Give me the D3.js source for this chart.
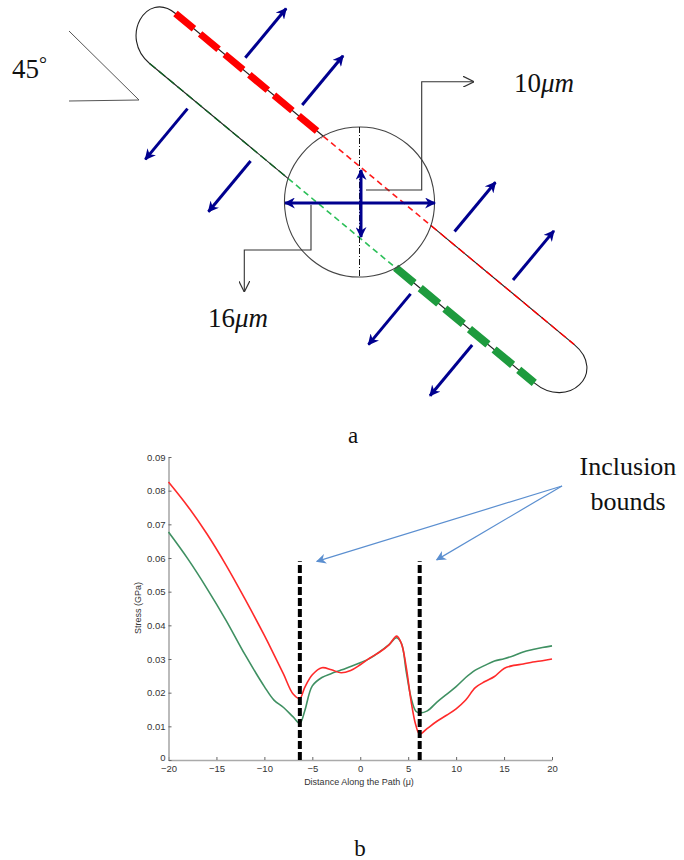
<!DOCTYPE html>
<html>
<head>
<meta charset="utf-8">
<script src="https://cdn.jsdelivr.net/npm/d3@7"></script>
<style>
  body { margin: 0; background: #fff; }
  svg { display: block; }
  .serif { font-family: "Liberation Serif", "DejaVu Serif", serif; fill: #111; }
  .axis text { font-family: "Liberation Sans", Arial, sans-serif; font-size: 9.5px; fill: #333; }
</style>
</head>
<body>
<svg width="684" height="860"></svg>
<script>
// --- chart b data ---
var pathDist = [-20, -18, -16, -14, -12, -10, -9, -8, -7, -6.3, -5.8, -5, -4, -3, -2, -1, 0, 1, 2, 3,
                3.8, 4.3, 4.8, 5.3, 5.8, 6.2, 7, 8, 9, 10, 11, 12, 13, 14, 15, 16, 17, 18, 19, 20];
var stressRed = [0.0826, 0.0754, 0.0672, 0.0579, 0.0477, 0.0370, 0.0313, 0.0255, 0.0196, 0.0183, 0.0215, 0.0253, 0.0274, 0.0268, 0.0259, 0.0266, 0.0283, 0.0303, 0.0320, 0.0342,
                 0.0368, 0.0345, 0.0275, 0.0175, 0.0103, 0.0077, 0.0094, 0.0115, 0.0133, 0.0152, 0.0178, 0.0215, 0.0233, 0.0248, 0.0272, 0.0281, 0.0285, 0.0291, 0.0295, 0.0300];
var stressGreen = [0.0677, 0.0598, 0.0510, 0.0415, 0.0312, 0.0218, 0.0178, 0.0156, 0.0128, 0.0109, 0.0145, 0.0220, 0.0245, 0.0257, 0.0267, 0.0278, 0.0289, 0.0302, 0.0321, 0.0343,
                   0.0363, 0.0346, 0.0262, 0.0185, 0.0145, 0.0140, 0.0146, 0.0172, 0.0195, 0.0218, 0.0245, 0.0267, 0.0281, 0.0294, 0.0301, 0.0310, 0.0321, 0.0328, 0.0334, 0.0339];
var boundDist = [-6.3, 6.2],
    boundTop = 0.059;
var distTicks = [-20, -15, -10, -5, 0, 5, 10, 15, 20],
    stressTicks = [0, 0.01, 0.02, 0.03, 0.04, 0.05, 0.06, 0.07, 0.08, 0.09];

var svg = d3.select("svg");
var defs = svg.append("defs");

function marker(id, color, size, open) {
    var m = defs.append("marker")
        .attr("id", id)
        .attr("viewBox", "0 0 10 10")
        .attr("refX", open ? 10 : 9).attr("refY", 5)
        .attr("markerUnits", "userSpaceOnUse")
        .attr("markerWidth", size).attr("markerHeight", size)
        .attr("orient", "auto-start-reverse");
    if (open) {
        m.append("path").attr("d", "M0,0 L10,5 L0,10").attr("fill", "none")
            .attr("stroke", color).attr("stroke-width", 1.1);
    } else {
        m.append("path").attr("d", "M0,0 L10,5 L0,10 L3,5 Z").attr("fill", color);
    }
}
marker("blue-head", "#00008f", 11, false);
marker("chev", "#333", 11, true);
marker("note-head", "#5b8fd0", 10, false);

// ================= part a : the inclusion sketch =================
var navy = "#00008f";

// 45 degree angle
svg.append("line").attr("x1", 69).attr("y1", 31).attr("x2", 139).attr("y2", 100)
    .attr("stroke", "#555").attr("stroke-width", 1);
svg.append("line").attr("x1", 69).attr("y1", 101).attr("x2", 139).attr("y2", 100)
    .attr("stroke", "#555").attr("stroke-width", 1);
var t45 = svg.append("text").attr("class", "serif").attr("x", 12).attr("y", 78)
    .style("font-size", "27px");
t45.append("tspan").text("45");
t45.append("tspan").attr("dy", -7).style("font-size", "20px").text("°");

// capsule drawn in its own rotated frame
var cap = svg.append("g").attr("transform", "translate(359.5,202) rotate(39.7)");
var hw = 27.5, rc = 75, cut = Math.sqrt(rc * rc - hw * hw);

cap.append("path")
    .attr("d", "M" + (-cut) + "," + (-hw) + " L-262," + (-hw) + " C-300," + (-hw) + " -290," + hw + " -250," + hw + " L" + (-cut) + "," + hw)
    .attr("fill", "none").attr("stroke", "#222").attr("stroke-width", 1.1);
cap.append("path")
    .attr("d", "M" + cut + "," + (-hw) + " L256," + (-hw) + " C300," + (-hw) + " 294," + hw + " 250," + hw + " L" + cut + "," + hw)
    .attr("fill", "none").attr("stroke", "#222").attr("stroke-width", 1.1);

function seg(u1, u2, v, color, w, dash) {
    cap.append("line").attr("x1", u1).attr("y1", v).attr("x2", u2).attr("y2", v)
        .attr("stroke", color).attr("stroke-width", w).attr("stroke-dasharray", dash);
}
// upper (red) side
seg(-262, -cut, -hw, "#ff0000", 7, "24,8");
seg(-cut, cut, -hw, "#ff1a1a", 1.6, "6,4");
seg(cut, 256, -hw, "#ff0000", 1.4, "8,4");
// lower (green) side
seg(-250, -cut, hw, "#135f25", 1.4, "8,4");
seg(-cut, cut, hw, "#2bbf58", 1.6, "6,4");
seg(cut, 250, hw, "#1e9b3e", 8, "24,8");

cap.append("circle").attr("r", rc).attr("fill", "none").attr("stroke", "#444").attr("stroke-width", 1.1);

// outward load arrows
var upperU = [-180, -106, 92, 168],
    lowerU = [-192, -110, 98, 178];
upperU.forEach(function (u) {
    cap.append("line").attr("x1", u).attr("y1", -38).attr("x2", u).attr("y2", -102)
        .attr("stroke", navy).attr("stroke-width", 3).attr("marker-end", "url(#blue-head)");
});
lowerU.forEach(function (u) {
    cap.append("line").attr("x1", u).attr("y1", 38).attr("x2", u).attr("y2", 104)
        .attr("stroke", navy).attr("stroke-width", 3).attr("marker-end", "url(#blue-head)");
});

// vertical dash-dot axis through the circle
svg.append("line").attr("x1", 359.5).attr("y1", 127).attr("x2", 359.5).attr("y2", 277)
    .attr("stroke", "#111").attr("stroke-width", 1).attr("stroke-dasharray", "6,2,1,2");

// dimension arrows
svg.append("line").attr("x1", 285).attr("y1", 203).attr("x2", 435).attr("y2", 203)
    .attr("stroke", navy).attr("stroke-width", 3)
    .attr("marker-start", "url(#blue-head)").attr("marker-end", "url(#blue-head)");
svg.append("line").attr("x1", 361).attr("y1", 170).attr("x2", 361).attr("y2", 237)
    .attr("stroke", navy).attr("stroke-width", 3)
    .attr("marker-start", "url(#blue-head)").attr("marker-end", "url(#blue-head)");

// callouts
svg.append("polyline").attr("points", "366,190 421.7,190 421.7,81.7 474,81.7")
    .attr("fill", "none").attr("stroke", "#333").attr("stroke-width", 1.1).attr("marker-end", "url(#chev)");
svg.append("polyline").attr("points", "311,205 311,250 244.3,250 244.3,292")
    .attr("fill", "none").attr("stroke", "#333").attr("stroke-width", 1.1).attr("marker-end", "url(#chev)");

function dimLabel(x, y, num) {
    var t = svg.append("text").attr("class", "serif").attr("x", x).attr("y", y).style("font-size", "27px");
    t.append("tspan").text(num);
    t.append("tspan").style("font-style", "italic").text("μm");
}
dimLabel(514, 92, "10");
dimLabel(208, 327, "16");

svg.append("text").attr("class", "serif").attr("x", 353).attr("y", 443)
    .attr("text-anchor", "middle").style("font-size", "23px").text("a");

// ================= part b : stress along the path =================
var x = d3.scaleLinear().domain([-20, 20]).range([168.5, 552]),
    y = d3.scaleLinear().domain([0, 0.09]).range([760, 457]);

var gx = svg.append("g").attr("class", "axis")
    .attr("transform", "translate(0,760)")
    .call(d3.axisBottom(x).tickValues(distTicks).tickSizeInner(-3).tickSizeOuter(0).tickPadding(5)
        .tickFormat(d3.format("d")));
var gy = svg.append("g").attr("class", "axis")
    .attr("transform", "translate(168.5,0)")
    .call(d3.axisLeft(y).tickValues(stressTicks).tickSizeInner(-3).tickSizeOuter(0).tickPadding(3)
        .tickFormat(function (d) { return d === 0 ? "0" : d3.format(".2f")(d); }));
[gx, gy].forEach(function (g) {
    g.select(".domain").attr("stroke", "#aaa").attr("stroke-width", 1.6);
    g.selectAll(".tick line").attr("stroke", "#666");
});
// the "0" of the stress axis sits just above the "-20"
gy.selectAll(".tick text").filter(function (d) { return d === 0; }).attr("dy", "0.1em");

svg.append("text")
    .attr("transform", "translate(141,608) rotate(-90)")
    .attr("text-anchor", "middle")
    .style("font-family", "Liberation Sans, Arial, sans-serif").style("font-size", "9px").style("fill", "#333")
    .text("Stress (GPa)");
svg.append("text")
    .attr("x", 359).attr("y", 785).attr("text-anchor", "middle")
    .style("font-family", "Liberation Sans, Arial, sans-serif").style("font-size", "9px").style("fill", "#333")
    .text("Distance Along the Path (μ)");

var line = d3.line().curve(d3.curveCatmullRom.alpha(0.5));
svg.append("path")
    .attr("d", line(pathDist.map(function (d, i) { return [x(d), y(stressGreen[i])]; })))
    .attr("fill", "none").attr("stroke", "#3f9062").attr("stroke-width", 1.6);
svg.append("path")
    .attr("d", line(pathDist.map(function (d, i) { return [x(d), y(stressRed[i])]; })))
    .attr("fill", "none").attr("stroke", "#ff2a2a").attr("stroke-width", 1.6);

svg.selectAll(".bound").data(boundDist).enter().append("line")
    .attr("class", "bound")
    .attr("x1", function (d) { return x(d); }).attr("x2", function (d) { return x(d); })
    .attr("y1", y(0)).attr("y2", y(boundTop))
    .attr("stroke", "#000").attr("stroke-width", 4).attr("stroke-dasharray", "8,3");

// annotation
var noteFrom = [562, 486];
svg.selectAll(".note").data(boundDist).enter().append("line")
    .attr("class", "note")
    .attr("x1", noteFrom[0]).attr("y1", noteFrom[1])
    .attr("x2", function (d) { return x(d) + 17; })
    .attr("y2", function (d) { return y(boundTop) + (d < 0 ? 0 : -1.5); })
    .attr("stroke", "#5b8fd0").attr("stroke-width", 1.2).attr("marker-end", "url(#note-head)");

svg.append("text").attr("class", "serif").attr("x", 628).attr("y", 475)
    .attr("text-anchor", "middle").style("font-size", "26px").text("Inclusion");
svg.append("text").attr("class", "serif").attr("x", 628).attr("y", 510)
    .attr("text-anchor", "middle").style("font-size", "26px").text("bounds");

svg.append("text").attr("class", "serif").attr("x", 360).attr("y", 856)
    .attr("text-anchor", "middle").style("font-size", "23px").text("b");
</script>
</body>
</html>
